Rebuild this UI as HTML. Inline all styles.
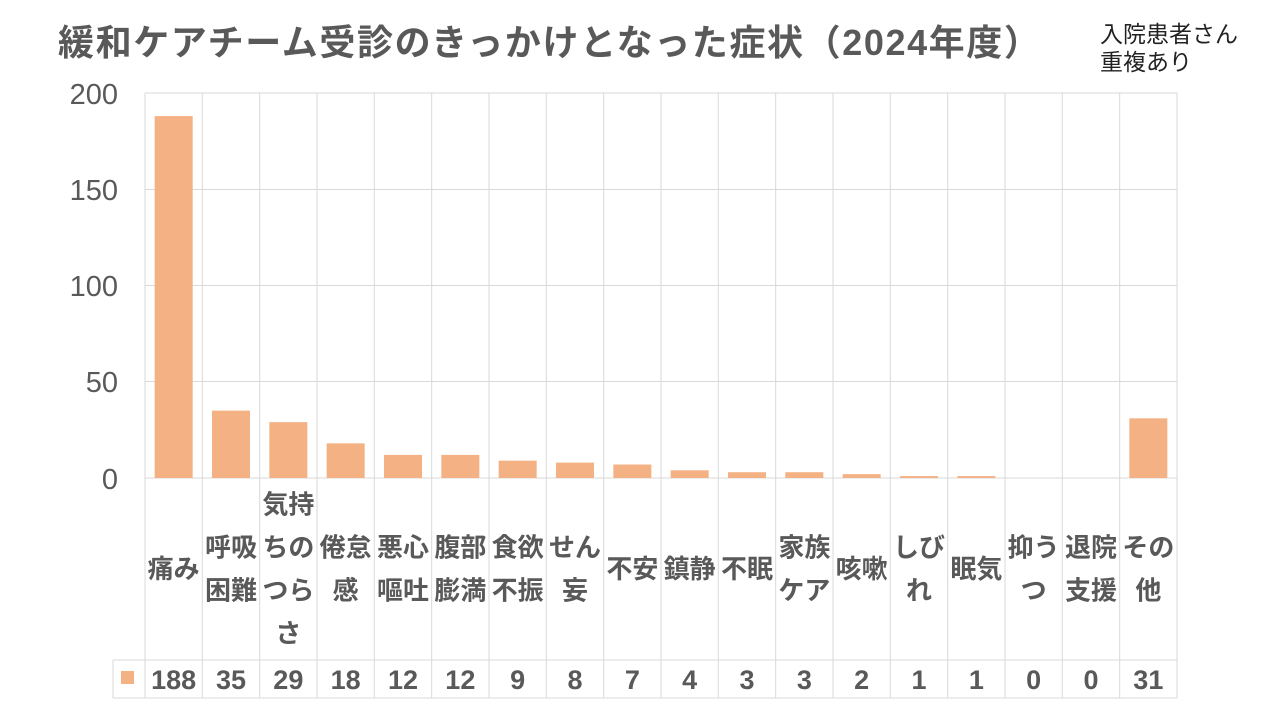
<!DOCTYPE html>
<html><head><meta charset="utf-8"><style>
body{margin:0;background:#fff}
svg{display:block;font-family:"Liberation Sans","Noto Sans CJK JP",sans-serif}
</style></head><body>
<svg width="1280" height="720" viewBox="0 0 1280 720">
<text x="58" y="55" font-size="36" font-weight="bold" fill="#595959" letter-spacing="1.6">緩和ケアチーム受診のきっかけとなった症状（2024年度）</text>
<text x="1100" y="42" font-size="23" fill="#222">入院患者さん</text>
<text x="1100" y="70" font-size="23" fill="#222">重複あり</text>
<g stroke="#d9d9d9" stroke-width="1">
<line x1="145" y1="93" x2="1177" y2="93"/>
<line x1="145" y1="189.5" x2="1177" y2="189.5"/>
<line x1="145" y1="285.5" x2="1177" y2="285.5"/>
<line x1="145" y1="381.5" x2="1177" y2="381.5"/>
<line x1="145" y1="478" x2="1177" y2="478"/>
<line x1="113" y1="660" x2="1177" y2="660"/>
<line x1="113" y1="698" x2="1177" y2="698"/>
<line x1="113" y1="660" x2="113" y2="698"/>
<g id="v"></g>
</g>
<g font-size="29" fill="#595959" text-anchor="end">
<text x="118" y="104">200</text><text x="118" y="200">150</text><text x="118" y="296">100</text><text x="118" y="392">50</text><text x="118" y="489">0</text>
</g>
<rect x="121" y="671" width="13" height="13" fill="#f4b183"/>
<g id="c"></g>
<script>
var d=[["痛み",188],["呼吸|困難",35],["気持|ちの|つら|さ",29],["倦怠|感",18],["悪心|嘔吐",12],["腹部|膨満",12],["食欲|不振",9],["せん|妄",8],["不安",7],["鎮静",4],["不眠",3],["家族|ケア",3],["咳嗽",2],["しび|れ",1],["眠気",1],["抑う|つ",0],["退院|支援",0],["その|他",31]];
var ns="http://www.w3.org/2000/svg",w=(1177-145)/18,c=document.getElementById("c"),v=document.getElementById("v");
function el(t,a,p,tx){var e=document.createElementNS(ns,t);for(var k in a)e.setAttribute(k,a[k]);if(tx!=null)e.textContent=tx;p.appendChild(e);return e;}
for(var i=0;i<=18;i++){var x=145+w*i;el("line",{x1:x,y1:93,x2:x,y2:698},v);}
d.forEach(function(r,i){var cx=145+w*(i+0.5),h=r[1]*1.925;
if(h>0)el("rect",{x:cx-19,y:478-h,width:38,height:h,fill:"#f4b183"},c);
var L=r[0].split("|"),n=L.length,y0=569-(n-1)*43/2+9;
L.forEach(function(s,j){el("text",{x:cx,y:y0+j*43,"font-size":26,"font-weight":"bold",fill:"#595959","text-anchor":"middle"},c,s);});
el("text",{x:cx,y:689,"font-size":27,"font-weight":"bold",fill:"#595959","text-anchor":"middle"},c,String(r[1]));
});
</script>
</svg>
</body></html>
